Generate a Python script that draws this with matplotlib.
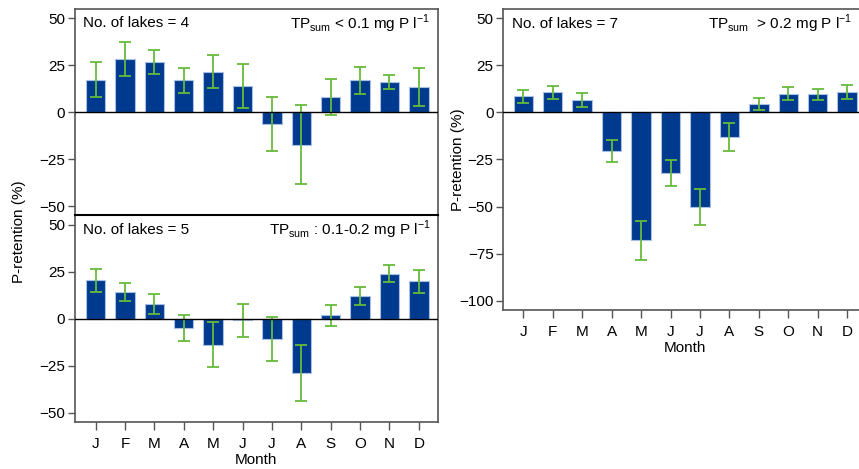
import numpy as np
import matplotlib.pyplot as plt

plt.rcParams['font.family'] = ['Liberation Sans', 'DejaVu Sans']
plt.rcParams['mathtext.fontset'] = 'custom'
plt.rcParams['mathtext.rm'] = 'Liberation Sans'

months = ['J', 'F', 'M', 'A', 'M', 'J', 'J', 'A', 'S', 'O', 'N', 'D']

# < 0.1 mg P/l, 4 lakes
low_mean = [17.3, 28.0, 26.5, 16.8, 21.5, 14.0, -6.5, -17.3, 7.9, 16.8, 15.9, 13.4]
low_err = [9.5, 9.0, 6.5, 6.7, 8.8, 11.7, 14.3, 20.8, 9.7, 7.0, 3.7, 10.2]

# 0.1-0.2 mg P/l, 5 lakes
mid_mean = [20.6, 14.4, 7.8, -4.8, -13.7, -0.7, -10.8, -28.9, 2.0, 12.1, 24.1, 20.0]
mid_err = [6.1, 4.7, 5.4, 7.1, 11.9, 8.8, 11.7, 14.8, 5.6, 4.9, 4.7, 6.1]

# > 0.2 mg P/l, 7 lakes
high_mean = [8.5, 10.6, 6.7, -20.3, -67.8, -32.2, -50.2, -12.9, 4.2, 9.9, 9.5, 10.8]
high_err = [3.5, 3.4, 3.8, 5.9, 10.3, 6.7, 9.5, 7.4, 3.2, 3.3, 3.0, 3.5]

bar_col = '#003a8f'
edge_col = '#a9bfe6'
err_col = '#66bb3a'
spine_col = '#555555'
fs = 11

W, H = 859, 469
fig = plt.figure(figsize=(W / 100, H / 100), dpi=100)


def px_axes(l, t, r, b):
    return fig.add_axes([l / W, 1 - b / H, (r - l) / W, (b - t) / H])


def draw(ax, mean, err, ylim, yticks):
    x = np.arange(len(months))
    ax.bar(x, mean, width=0.66, color=bar_col, edgecolor=edge_col, linewidth=0.8, zorder=2)
    ax.errorbar(x, mean, yerr=err, fmt='none', ecolor=err_col, elinewidth=1.3,
                capsize=4, capthick=1.3, zorder=3)
    ax.axhline(0, color='black', lw=1, zorder=4)
    ax.set_ylim(*ylim)
    ax.set_yticks(yticks)
    ax.tick_params(axis='both', labelsize=fs, colors='black', direction='out')
    ax.tick_params(axis='y', length=5, width=1, color=spine_col, pad=2)
    ax.tick_params(axis='x', length=6, width=1, color=spine_col, pad=5)
    for s in ax.spines.values():
        s.set_color(spine_col)
        s.set_linewidth(1.2)


# top-left
ax1 = px_axes(75, 9, 437.7, 215.5)
draw(ax1, low_mean, low_err, (-55, 54.8), [-50, -25, 0, 25, 50])
ax1.set_xlim(-0.7, 11.64)
ax1.set_xticks([])
ax1.spines['bottom'].set_visible(False)
ax1.text(0.022, 0.93, 'No. of lakes = 4', transform=ax1.transAxes, fontsize=fs, va='center')
ax1.text(0.98, 0.93, r'TP$_{\mathregular{sum}}$ < 0.1 mg P l$^{\mathregular{-1}}$',
         transform=ax1.transAxes, fontsize=fs, va='center', ha='right')

# bottom-left
ax2 = px_axes(75, 215.5, 437.7, 422)
draw(ax2, mid_mean, mid_err, (-54.8, 55), [-50, -25, 0, 25, 50])
ax2.set_xlim(-0.7, 11.64)
ax2.set_xticks(np.arange(len(months)))
ax2.set_xticklabels(months)
ax2.spines['top'].set_color('black')
ax2.spines['top'].set_linewidth(1.5)
ax2.set_xlabel('Month', fontsize=fs, labelpad=1)
ax2.text(0.022, 0.93, 'No. of lakes = 5', transform=ax2.transAxes, fontsize=fs, va='center')
ax2.text(0.98, 0.93, r'TP$_{\mathregular{sum}}$ : 0.1-0.2 mg P l$^{-1}$',
         transform=ax2.transAxes, fontsize=fs, va='center', ha='right')

fig.text(19 / W, 1 - 232 / H, 'P-retention (%)', rotation=90, fontsize=fs,
         ha='center', va='center')

# right
ax3 = px_axes(503.3, 9, 866, 310)
draw(ax3, high_mean, high_err, (-104.8, 54.8), [-100, -75, -50, -25, 0, 25, 50])
ax3.set_xlim(-0.68, 11.64)
ax3.set_xticks(np.arange(len(months)))
ax3.set_xticklabels(months)
ax3.set_xlabel('Month', fontsize=fs, labelpad=1)
ax3.set_ylabel('P-retention (%)', fontsize=fs)
ax3.yaxis.set_label_coords(-0.106, 0.5)
ax3.text(0.023, 0.95, 'No. of lakes = 7', transform=ax3.transAxes, fontsize=fs, va='center')
ax3.text(0.963, 0.95, r'TP$_{\mathregular{sum}}$  > 0.2 mg P l$^{-1}$',
         transform=ax3.transAxes, fontsize=fs, va='center', ha='right')

fig.savefig('out.png', dpi=100)
